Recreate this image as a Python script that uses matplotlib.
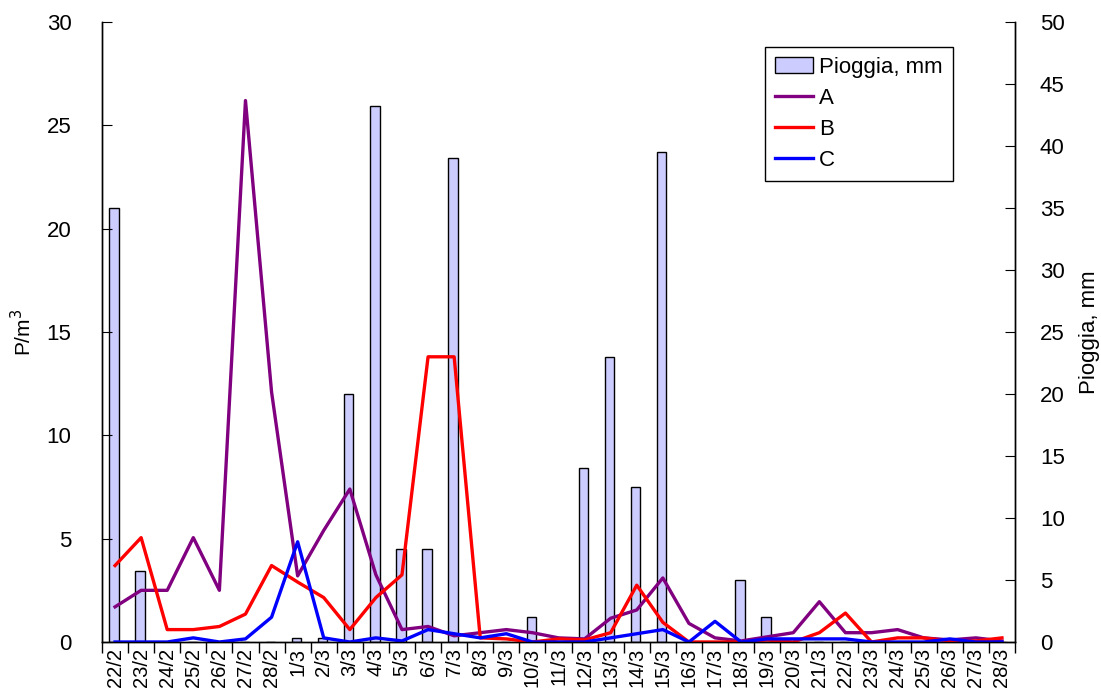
import numpy as np
import matplotlib.pyplot as plt

plt.rcParams['font.family'] = ['Liberation Sans', 'DejaVu Sans']

# categories (dates)
dates = ['22/2', '23/2', '24/2', '25/2', '26/2', '27/2', '28/2'] + \
        ['%d/3' % d for d in range(1, 29)]

# rain, mm (right axis)
pioggia = [35, 5.7, 0, 0, 0, 0, 0,
           0.3, 0.3, 20, 43.2, 7.5, 7.5, 39, 0, 0, 2, 0, 14, 23, 12.5, 39.5,
           0, 0, 5, 2, 0, 0, 0, 0, 0, 0, 0, 0, 0]

# P/m3 (left axis)
A = [1.7, 2.5, 2.5, 5.05, 2.5, 26.2, 12.1,
     3.2, 5.4, 7.4, 3.25, 0.6, 0.75, 0.3, 0.45, 0.6, 0.45, 0.2, 0.15, 1.15, 1.55, 3.1,
     0.9, 0.2, 0.05, 0.25, 0.45, 1.95, 0.45, 0.45, 0.6, 0.2, 0.1, 0.2, 0.05]
B = [3.7, 5.05, 0.6, 0.6, 0.75, 1.35, 3.7,
     2.9, 2.15, 0.6, 2.15, 3.25, 13.8, 13.8, 0.2, 0.15, 0, 0.15, 0.1, 0.45, 2.75, 0.95,
     0, 0, 0, 0.1, 0, 0.45, 1.4, 0, 0.2, 0.2, 0.05, 0.05, 0.2]
C = [0, 0, 0, 0.2, 0, 0.15, 1.2,
     4.85, 0.2, 0, 0.2, 0.05, 0.6, 0.4, 0.2, 0.4, 0, 0, 0, 0.2, 0.4, 0.6,
     0, 1.0, 0, 0.15, 0.15, 0.15, 0.15, 0, 0, 0, 0.15, 0, 0]

x = np.arange(len(dates))

fig = plt.figure(figsize=(11.01, 7.0), dpi=100)
ax = fig.add_axes([102 / 1101, 58 / 700, 913 / 1101, 620 / 700])
ax2 = ax.twinx()

# bars on the right axis, behind the lines
bars = ax2.bar(x - 0.04, pioggia, width=0.36, color='#CCCCFF',
               edgecolor='black', linewidth=1.0, label='Pioggia, mm')
ax.set_zorder(ax2.get_zorder() + 1)
ax.patch.set_visible(False)

la, = ax.plot(x, A, color='#800080', linewidth=2.4, label='A')
lb, = ax.plot(x, B, color='#FF0000', linewidth=2.4, label='B')
lc, = ax.plot(x, C, color='#0000FF', linewidth=2.4, label='C')

ax.set_xlim(-0.5, len(dates) - 0.5)
ax.set_ylim(0, 30)
ax2.set_ylim(0, 50)
ax.set_yticks(np.arange(0, 31, 5))
ax2.set_yticks(np.arange(0, 51, 5))

ax.set_xticks(x)
ax.set_xticklabels(dates, rotation=90, fontsize=14.5)
ax.set_xticks(np.arange(-0.5, len(dates), 1), minor=True)
ax.tick_params(axis='x', which='major', length=0, pad=4)
ax.tick_params(axis='x', which='minor', length=8, direction='out', width=1)
ax2.tick_params(axis='x', which='both', length=0)

ax.tick_params(axis='y', direction='in', length=7, labelsize=16, pad=22)
ax2.tick_params(axis='y', direction='in', length=7, labelsize=16, pad=18)

ax.set_ylabel('P/m$^3$', fontsize=15, labelpad=8)
ax2.set_ylabel('Pioggia, mm', fontsize=16, labelpad=10)

for a in (ax, ax2):
    a.spines['top'].set_visible(False)
    for s in a.spines.values():
        s.set_linewidth(1.0)

leg = ax.legend([bars, la, lb, lc], ['Pioggia, mm', 'A', 'B', 'C'],
                loc='upper right', bbox_to_anchor=(0.932, 0.96),
                borderaxespad=0,
                fontsize=16, frameon=True, fancybox=False, framealpha=1,
                edgecolor='black', handlelength=1.7, handletextpad=0.3,
                labelspacing=0.45, borderpad=0.45)
leg.get_frame().set_linewidth(1.0)

fig.savefig('out.png', dpi=100)
